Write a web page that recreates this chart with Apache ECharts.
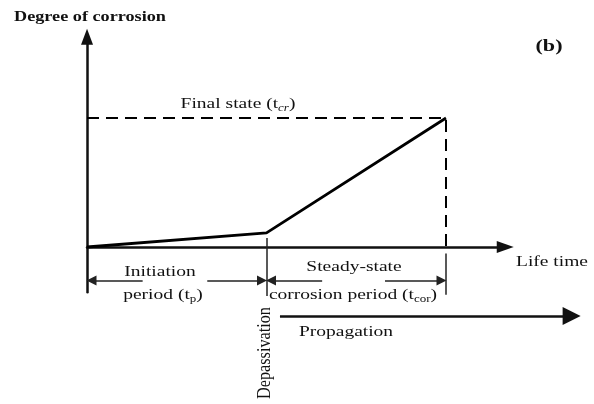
<!DOCTYPE html>
<html><head><meta charset="utf-8">
<script src="https://cdn.jsdelivr.net/npm/echarts@6/dist/echarts.min.js"></script>
<style>html,body{margin:0;padding:0;background:#fff}#c{width:594px;height:404px}</style>
</head><body><div id="c"></div>
<script>
// Life time in units of the initiation period; degree of corrosion in units of the final state
const lifeTime = [0, 1, 2];              // start, depassivation (tp), final state (tcr)
const corrosionDegree = [0, 0.11, 1.0];
const finalState = 1.0;
const xRange = [0, 2.33];
const yRange = [-0.35, 1.63];
// dimension annotations below the time axis
const dimY = -0.26;
const initiationSegs = [[0.31, 0.025], [0.67, 0.975]];
const steadySegs = [[1.31, 1.025], [1.66, 1.975]];
const propagationY = -0.535;
const propagationSeg = [1.075, 2.70];
const tickDepass = [0.07, -0.38];
const tickFinal = [-0.05, -0.37];

const pxX = 179.5, pxY = 129;
const gridLeft = 87, originY = 247;

const FONT = '"Liberation Serif", "Times New Roman", serif';
const INK = '#111';
const SX = 1.3;

function txt(x, y, text, o) {
  o = o || {};
  return {
    type: 'text', x: x, y: y, z: 100,
    rotation: o.rotation || 0,
    scaleX: o.scaleX != null ? o.scaleX : SX,
    scaleY: o.scaleY != null ? o.scaleY : 1,
    style: {
      text: text, fill: INK, align: 'center', verticalAlign: 'middle',
      font: (o.bold ? 'bold ' : '') + (o.size || 15) + 'px ' + FONT,
      rich: {
        n: {fontFamily: FONT, fontSize: o.size || 15, lineHeight: 18, fill: INK},
        s: {fontFamily: FONT, fontSize: 10, lineHeight: 10, verticalAlign: 'bottom', fill: INK},
        si: {fontFamily: FONT, fontSize: 10, fontStyle: 'italic', lineHeight: 10, verticalAlign: 'bottom', fill: INK}
      }
    }
  };
}

const chart = echarts.init(document.getElementById('c'), null, {renderer: 'canvas'});

const dimLine = {color: '#222', width: 1.5, opacity: 1};
const arrowData = initiationSegs.concat(steadySegs).map(s => ({coords: [[s[0], dimY], [s[1], dimY]]}));

chart.setOption({
  animation: false,
  backgroundColor: '#fff',
  grid: {
    left: gridLeft,
    top: originY - yRange[1] * pxY,
    width: (xRange[1] - xRange[0]) * pxX,
    height: (yRange[1] - yRange[0]) * pxY,
    containLabel: false
  },
  xAxis: {
    type: 'value', min: xRange[0], max: xRange[1],
    axisLine: {onZero: true, symbol: ['none', 'triangle'], symbolSize: [12, 17], lineStyle: {color: INK, width: 2.5}},
    axisTick: {show: false}, axisLabel: {show: false}, splitLine: {show: false}
  },
  yAxis: {
    type: 'value', min: yRange[0], max: yRange[1],
    axisLine: {onZero: true, symbol: ['none', 'triangle'], symbolSize: [12, 16], lineStyle: {color: INK, width: 2.5}},
    axisTick: {show: false}, axisLabel: {show: false}, splitLine: {show: false}
  },
  series: [
    {
      name: 'Degree of corrosion', type: 'line', symbol: 'none', z: 5,
      data: lifeTime.map((t, i) => [t, corrosionDegree[i]]),
      lineStyle: {color: '#000', width: 2.8}
    },
    {
      name: 'Final state', type: 'line', symbol: 'none', z: 4,
      data: [[lifeTime[0], finalState], [lifeTime[2], finalState], [lifeTime[2], 0]],
      lineStyle: {color: '#000', width: 2, type: [12, 7]}
    },
    {
      type: 'lines', coordinateSystem: 'cartesian2d', clip: false, z: 3,
      data: [
        {coords: [[lifeTime[1], tickDepass[0]], [lifeTime[1], tickDepass[1]]]},
        {coords: [[lifeTime[2], tickFinal[0]], [lifeTime[2], tickFinal[1]]]}
      ],
      symbol: 'none', lineStyle: dimLine
    },
    {
      type: 'lines', coordinateSystem: 'cartesian2d', clip: false, z: 3,
      data: arrowData,
      symbol: ['none', 'triangle'], symbolSize: [9, 10],
      lineStyle: dimLine, itemStyle: {color: '#222', opacity: 1}
    },
    {
      type: 'lines', coordinateSystem: 'cartesian2d', clip: false, z: 3,
      data: [{coords: [[propagationSeg[0], propagationY], [propagationSeg[1], propagationY]]}],
      symbol: ['none', 'triangle'], symbolSize: [13, 18],
      lineStyle: {color: INK, width: 2.5, opacity: 1}, itemStyle: {color: INK, opacity: 1}
    }
  ],
  graphic: [
    txt(90, 17, 'Degree of corrosion', {bold: true, size: 14}),
    txt(549, 47, '(b)', {bold: true, size: 17}),
    txt(238, 104, '{n|Final state (t}{si|cr}{n|)}'),
    txt(552, 262, 'Life time'),
    txt(160, 272, 'Initiation'),
    txt(163, 295, '{n|period (t}{s|p}{n|)}'),
    txt(354, 267, 'Steady-state'),
    txt(353, 295, '{n|corrosion period (t}{s|cor}{n|)}'),
    txt(346, 332, 'Propagation'),
    txt(265, 353, 'Depassivation', {rotation: Math.PI / 2, scaleX: 1.08, scaleY: SX})
  ]
});
</script></body></html>
